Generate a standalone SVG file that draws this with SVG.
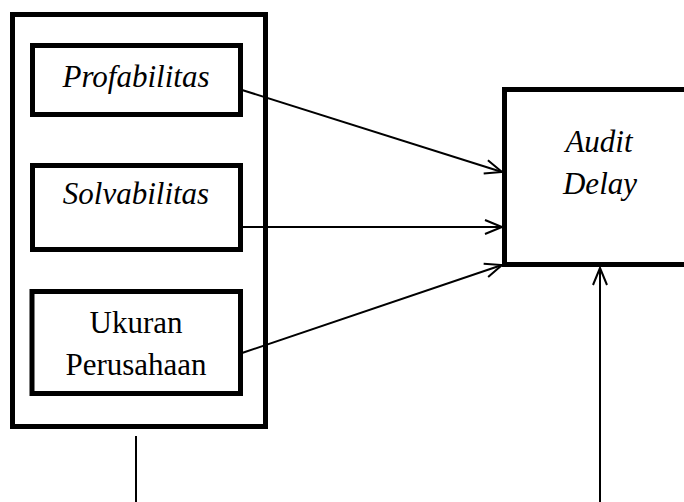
<svg xmlns="http://www.w3.org/2000/svg" width="684" height="502" viewBox="0 0 684 502">
<style>
.box{fill:#fff;stroke:#000;stroke-width:5}
.c{stroke:#000;stroke-width:2;fill:none}
</style>
<defs>
<marker id="arr" markerUnits="userSpaceOnUse" markerWidth="24" markerHeight="20" viewBox="-20 -10 24 20" refX="0" refY="0" orient="auto">
<path d="M-17,-7 L0,0 L-17,7" fill="none" stroke="#000" stroke-width="2"/>
</marker>
</defs>
<g font-family="Liberation Serif" font-size="31" text-anchor="middle" fill="#000">
<g id="group-box"><rect class="box" x="12.5" y="14.5" width="253" height="412"/></g>
<g id="profabilitas"><rect class="box" x="32.5" y="45.5" width="208" height="69"/><text font-style="italic" x="136" y="87">Profabilitas</text></g>
<g id="solvabilitas"><rect class="box" x="32.5" y="165.5" width="208" height="84"/><text font-style="italic" x="136" y="204">Solvabilitas</text></g>
<g id="ukuran"><rect class="box" x="32" y="291.5" width="208.5" height="102"/><text x="136" y="333">Ukuran</text><text x="136" y="375">Perusahaan</text></g>
<g id="audit-delay"><rect class="box" x="504.5" y="89.5" width="192" height="175"/><text font-style="italic" x="599" y="152">Audit</text><text font-style="italic" x="600" y="194">Delay</text></g>
</g>
<g id="connectors">
<line class="c" x1="242" y1="90" x2="502" y2="172" marker-end="url(#arr)"/>
<line class="c" x1="242" y1="227" x2="502" y2="227" marker-end="url(#arr)"/>
<line class="c" x1="242" y1="353" x2="502" y2="265" marker-end="url(#arr)"/>
<line class="c" x1="136" y1="436" x2="136" y2="502"/>
<line class="c" x1="600" y1="502" x2="600" y2="268" marker-end="url(#arr)"/>
</g>
</svg>
